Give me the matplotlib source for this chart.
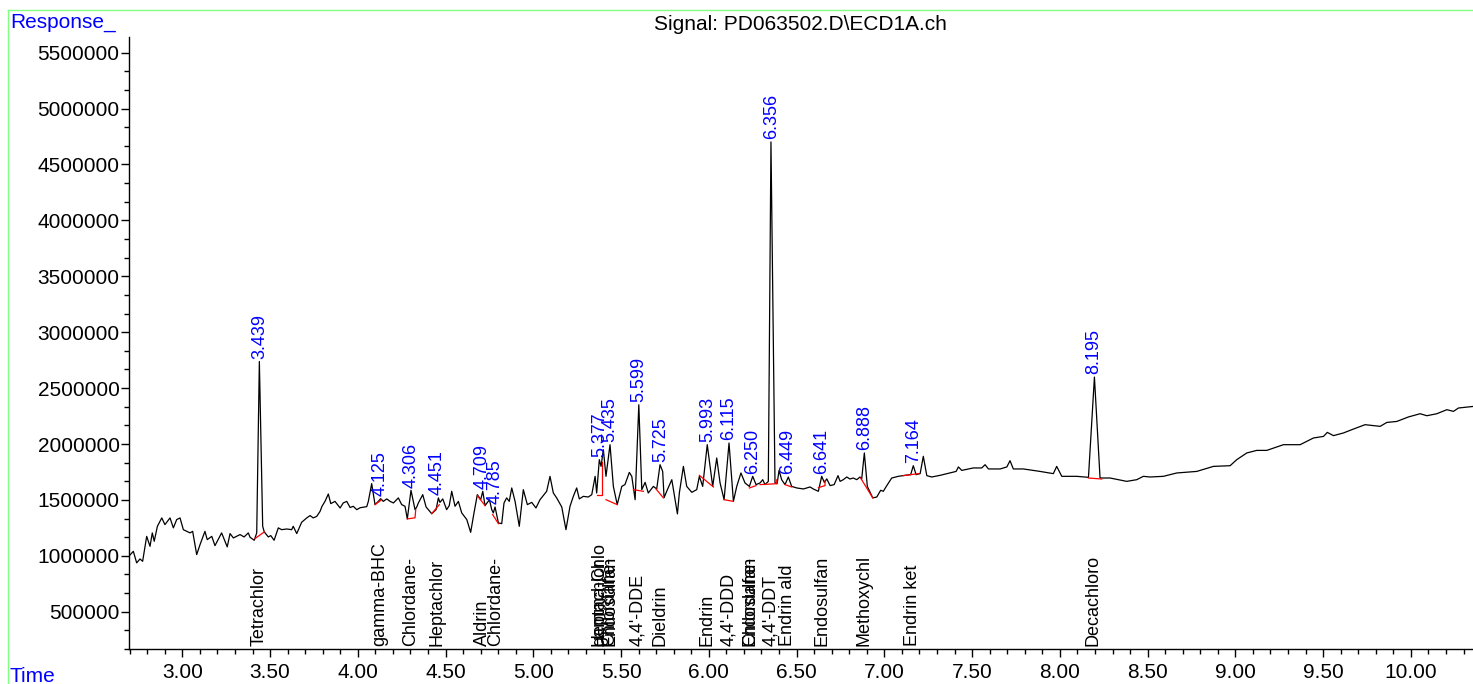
import matplotlib.pyplot as plt
import numpy as np
from matplotlib.lines import Line2D

plt.rcParams['font.family'] = ['Liberation Sans', 'DejaVu Sans']

# クロマトグラムのデータ (時間[min], 応答[x1000])
t = [2.695, 2.721, 2.740, 2.759, 2.774, 2.797, 2.816, 2.829, 2.840, 2.858,
     2.883, 2.901, 2.930, 2.949, 2.968, 2.987, 3.006, 3.025, 3.044, 3.059,
     3.067, 3.082, 3.101, 3.129, 3.142, 3.168, 3.186, 3.224, 3.256, 3.272,
     3.291, 3.329, 3.352, 3.376, 3.386, 3.410, 3.424, 3.439, 3.458, 3.467,
     3.490, 3.504, 3.523, 3.547, 3.566, 3.595, 3.623, 3.632, 3.652, 3.680,
     3.709, 3.728, 3.746, 3.766, 3.785, 3.796, 3.813, 3.832, 3.846, 3.870,
     3.899, 3.917, 3.937, 3.956, 3.974, 3.994, 4.013, 4.051, 4.060, 4.079,
     4.098, 4.117, 4.130, 4.145, 4.165, 4.184, 4.203, 4.231, 4.250, 4.269,
     4.282, 4.303, 4.326, 4.336, 4.345, 4.370, 4.389, 4.421, 4.446, 4.459,
     4.468, 4.484, 4.506, 4.521, 4.535, 4.554, 4.573, 4.592, 4.621, 4.643,
     4.662, 4.681, 4.700, 4.712, 4.725, 4.750, 4.763, 4.772, 4.782, 4.801,
     4.820, 4.833, 4.848, 4.863, 4.877, 4.896, 4.920, 4.943, 4.966, 4.991,
     5.015, 5.038, 5.061, 5.076, 5.095, 5.114, 5.133, 5.162, 5.186, 5.209,
     5.228, 5.247, 5.262, 5.285, 5.313, 5.333, 5.352, 5.361, 5.376, 5.386,
     5.399, 5.414, 5.437, 5.456, 5.478, 5.504, 5.522, 5.547, 5.561, 5.580,
     5.601, 5.618, 5.637, 5.655, 5.684, 5.703, 5.722, 5.737, 5.745, 5.764,
     5.789, 5.821, 5.832, 5.855, 5.874, 5.903, 5.931, 5.946, 5.965, 5.991,
     6.022, 6.045, 6.064, 6.087, 6.115, 6.140, 6.159, 6.183, 6.206, 6.231,
     6.250, 6.269, 6.292, 6.307, 6.320, 6.339, 6.354, 6.377, 6.389, 6.400,
     6.415, 6.434, 6.453, 6.472, 6.501, 6.539, 6.577, 6.595, 6.624, 6.643,
     6.658, 6.672, 6.691, 6.714, 6.736, 6.748, 6.766, 6.786, 6.804, 6.823,
     6.843, 6.861, 6.871, 6.886, 6.903, 6.934, 6.957, 6.979, 6.994, 7.014,
     7.042, 7.080, 7.118, 7.150, 7.165, 7.181, 7.204, 7.222, 7.242, 7.270,
     7.318, 7.374, 7.409, 7.422, 7.441, 7.507, 7.555, 7.574, 7.593, 7.660,
     7.698, 7.716, 7.735, 7.792, 7.887, 7.963, 7.982, 8.011, 8.096, 8.163,
     8.197, 8.229, 8.286, 8.381, 8.438, 8.476, 8.514, 8.590, 8.666, 8.780,
     8.875, 8.970, 9.008, 9.065, 9.122, 9.179, 9.274, 9.369, 9.445, 9.502,
     9.524, 9.559, 9.616, 9.663, 9.739, 9.825, 9.863, 9.920, 9.986, 10.053,
     10.091, 10.148, 10.205, 10.243, 10.271, 10.354]
response_k = [996, 1040, 937, 972, 951, 1174, 1085, 1205, 1130, 1264,
              1339, 1279, 1339, 1250, 1324, 1339, 1234, 1219, 1205, 1219,
              1145, 1011, 1100, 1219, 1145, 1174, 1091, 1205, 1080, 1199,
              1160, 1190, 1169, 1205, 1166, 1139, 1205, 2738, 1264, 1214,
              1169, 1181, 1139, 1250, 1234, 1240, 1234, 1264, 1199, 1300,
              1339, 1360, 1339, 1353, 1398, 1443, 1487, 1553, 1467, 1487,
              1428, 1473, 1487, 1432, 1443, 1413, 1430, 1440, 1487, 1646,
              1458, 1487, 1511, 1487, 1509, 1487, 1473, 1518, 1458, 1443,
              1330, 1586, 1413, 1437, 1473, 1547, 1437, 1377, 1413, 1518,
              1478, 1509, 1413, 1449, 1577, 1443, 1487, 1384, 1324, 1210,
              1384, 1547, 1502, 1577, 1449, 1502, 1413, 1384, 1437, 1294,
              1288, 1473, 1518, 1487, 1607, 1487, 1264, 1592, 1458, 1478,
              1428, 1502, 1547, 1577, 1711, 1562, 1518, 1437, 1234, 1443,
              1532, 1607, 1509, 1532, 1526, 1547, 1711, 1562, 1860, 1800,
              1949, 1711, 1994, 1621, 1458, 1621, 1637, 1746, 1711, 1502,
              2351, 1592, 1657, 1562, 1621, 1598, 1815, 1755, 1520, 1592,
              1681, 1375, 1562, 1800, 1621, 1568, 1592, 1711, 1621, 1994,
              1621, 1875, 1652, 1502, 2009, 1487, 1621, 1741, 1652, 1621,
              1711, 1637, 1652, 1681, 1637, 1666, 4702, 1652, 1645, 1764,
              1681, 1637, 1705, 1621, 1607, 1598, 1616, 1598, 1577, 1711,
              1657, 1688, 1628, 1637, 1717, 1666, 1681, 1705, 1687, 1696,
              1681, 1705, 1687, 1920, 1621, 1518, 1526, 1586, 1577, 1628,
              1696, 1711, 1720, 1726, 1806, 1726, 1735, 1890, 1717, 1705,
              1720, 1741, 1755, 1795, 1764, 1786, 1786, 1815, 1777, 1777,
              1795, 1851, 1777, 1777, 1755, 1735, 1800, 1711, 1711, 1702,
              2599, 1696, 1696, 1666, 1681, 1711, 1705, 1711, 1741, 1755,
              1800, 1806, 1860, 1920, 1943, 1943, 1994, 1994, 2054, 2068,
              2104, 2075, 2099, 2128, 2173, 2158, 2193, 2202, 2242, 2271,
              2253, 2271, 2307, 2292, 2322, 2336]

# 積分ベースライン (赤線)
base_lines = [
    [(3.414, 1154), (3.467, 1214)],
    [(4.098, 1458), (4.136, 1502)],
    [(4.282, 1330), (4.326, 1340), (4.330, 1413)],
    [(4.421, 1377), (4.464, 1457)],
    [(4.681, 1538), (4.725, 1449)],
    [(4.768, 1369), (4.801, 1288)],
    [(5.361, 1547), (5.389, 1547), (5.389, 1840)],
    [(5.414, 1502), (5.478, 1458)],
    [(5.570, 1592), (5.627, 1577)],
    [(5.699, 1598), (5.741, 1518)],
    [(5.946, 1720), (6.026, 1616)],
    [(6.087, 1502), (6.140, 1487)],
    [(6.231, 1607), (6.269, 1628)],
    [(6.292, 1637), (6.387, 1645), (6.387, 1680)],
    [(6.434, 1637), (6.472, 1616)],
    [(6.624, 1610), (6.662, 1628), (6.662, 1670)],
    [(6.865, 1696), (6.934, 1518)],
    [(7.108, 1717), (7.194, 1735)],
    [(8.163, 1696), (8.239, 1687)],
]

# ピークの保持時間ラベル
peak_rt = [3.439, 4.125, 4.306, 4.451, 4.709, 4.785, 5.377, 5.435, 5.599, 5.725,
           5.993, 6.115, 6.250, 6.356, 6.449, 6.641, 6.888, 7.164, 8.195]
peak_top_k = [2738, 1511, 1586, 1518, 1577, 1437, 1860, 1994, 2351, 1815,
              1994, 2009, 1711, 4702, 1705, 1711, 1920, 1806, 2599]

# 化合物名
comp_rt = [3.439, 4.125, 4.300, 4.451, 4.709, 4.788, 5.377, 5.377, 5.432, 5.435,
           5.593, 5.722, 5.990, 6.115, 6.236, 6.240, 6.354, 6.450, 6.644, 6.885,
           7.163, 8.191]
comp_name = ['Tetrachlor', 'gamma-BHC', 'Chlordane-', 'Heptachlor', 'Aldrin',
             'Chlordane-', 'gamma-Chlo', 'Heptachlor', 'Chlordane-', 'Endosulfan',
             "4,4'-DDE", 'Dieldrin', 'Endrin', "4,4'-DDD", 'Endosulfan', 'Chlordane-',
             "4,4'-DDT", 'Endrin ald', 'Endosulfan', 'Methoxychl', 'Endrin ket',
             'Decachloro']

W, H = 1473, 684
fig = plt.figure(figsize=(W / 100, H / 100), dpi=100)
ax = fig.add_axes([129.3 / W, 1 - 649 / H, 1 - 129.3 / W, (649 - 36.7) / H])

ax.plot(t, np.array(response_k) * 1000, color='black', lw=0.9)
for seg in base_lines:
    bt, by = zip(*seg)
    ax.plot(bt, np.array(by) * 1000, color='red', lw=0.9)

for rt, top in zip(peak_rt, peak_top_k):
    ax.text(rt, top * 1000 + 25000, '%.3f' % rt, rotation=90, ha='center', va='bottom',
            color='blue', fontsize=13)

for rt, name in zip(comp_rt, comp_name):
    ax.text(rt, 190000, name, rotation=90, ha='center', va='bottom', fontsize=13)

ax.set_xlim(2.698, 10.354)
ax.set_ylim(171000, 5643000)

xt = np.arange(3.0, 10.01, 0.5)
ax.set_xticks(xt)
ax.set_xticklabels(['%.2f' % v for v in xt])
ax.set_xticks(np.arange(2.7, 10.36, 0.1), minor=True)
yt = np.arange(500000, 5500001, 500000)
ax.set_yticks(yt)
ax.set_yticklabels([str(v) for v in yt])
ax.set_yticks(np.arange(500000 - 500000 / 3 * 2, 5643000, 500000 / 3), minor=True)

ax.tick_params(axis='both', which='major', labelsize=15, length=6, width=1, direction='out')
ax.tick_params(axis='both', which='minor', length=3.5, width=1, direction='out')
ax.tick_params(axis='x', pad=4)
ax.tick_params(axis='y', pad=1)
for s in ['top', 'right']:
    ax.spines[s].set_visible(False)
for s in ['left', 'bottom']:
    ax.spines[s].set_linewidth(1)

# 外枠 (緑)
fig.add_artist(Line2D([8.3 / W, 8.3 / W], [0, 1 - 9.5 / H], transform=fig.transFigure,
                      color='#80ff80', lw=1))
fig.add_artist(Line2D([8.3 / W, 1], [1 - 9.5 / H, 1 - 9.5 / H], transform=fig.transFigure,
                      color='#80ff80', lw=1))

fig.text(800 / W, 1 - 25 / H, 'Signal: PD063502.D\\ECD1A.ch', ha='center', va='center', fontsize=15)
fig.text(10 / W, 1 - 22 / H, 'Response_', ha='left', va='center', color='blue', fontsize=15)
fig.text(10 / W, 1 - 676 / H, 'Time', ha='left', va='center', color='blue', fontsize=15)

fig.savefig('out.png', dpi=100)
